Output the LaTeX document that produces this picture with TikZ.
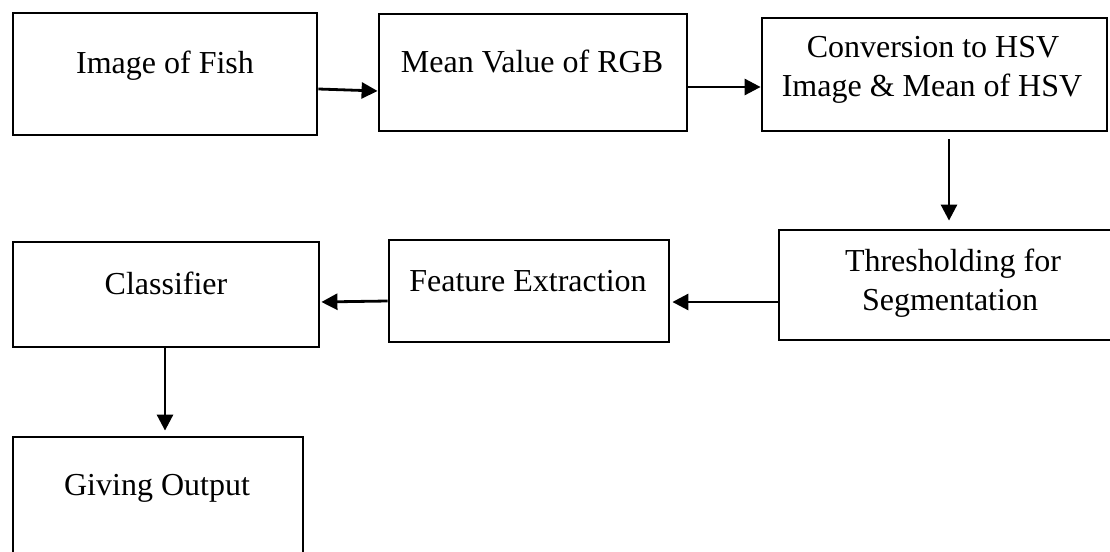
\documentclass[tikz,border=0pt]{standalone}
\usepackage{fontspec}
\setmainfont{Liberation Serif}
\usetikzlibrary{arrows.meta,calc}
\tikzset{
  box/.style={draw=black, line width=2.8pt, rectangle, inner sep=0pt},
  txt/.style={anchor=base, inner sep=0pt, font=\fontsize{32}{39}\selectfont},
  arr/.style={draw=black, line width=2.8pt, -{Triangle[length=16pt,width=16pt]}},
}
\begin{document}
\begin{tikzpicture}[x=1pt,y=-1pt]
\useasboundingbox (0,0) rectangle (1110,551);
\fill[white] (0,0) rectangle (1110,551);
\clip (0,0) rectangle (1110,551);
% boxes
\node[box, minimum width=304pt, minimum height=122pt] (b1) at (165,74) {};
\node[box, minimum width=308pt, minimum height=117pt] (b2) at (533,72.5) {};
\node[box, minimum width=345pt, minimum height=113pt] (b3) at (934.5,74.5) {};
\node[box, minimum width=340pt, minimum height=110pt] (b4) at (949,285) {};
\node[box, minimum width=280pt, minimum height=102pt] (b5) at (529,291) {};
\node[box, minimum width=306pt, minimum height=105pt] (b6) at (166,294.5) {};
\node[box, minimum width=290pt, minimum height=140pt] (b7) at (158,507) {};
% texts
\node[txt] (t1) at (165,74) {Image of Fish};
\node[txt] (t2) at (532,72) {Mean Value of RGB};
\node[txt] (t3a) at (933,57) {Conversion to HSV};
\node[txt] (t3b) at (932,96) {Image \& Mean of HSV};
\node[txt] (t4a) at (953,271) {Thresholding for};
\node[txt] (t4b) at (950,310) {Segmentation};
\node[txt] (t5) at (528,291) {Feature Extraction};
\node[txt] (t6) at (166,294) {Classifier};
\node[txt] (t7) at (157,495) {Giving Output};
% connectors
\draw[arr] ([yshift=-15pt]b1.east) -- ([yshift=-18.5pt]b2.west);
\draw[arr] ([yshift=-14.5pt]b2.east) -- ([yshift=-12.5pt]b3.west);
\draw[arr, shorten <=7pt, shorten >=8pt] ([xshift=14.5pt]b3.south) -- (b4.north);
\draw[arr, shorten >=2pt] ([yshift=-17pt]b4.west) -- ([yshift=-11pt]b5.east);
\draw[arr, shorten >=1pt] ([yshift=-10pt]b5.west) -- ([yshift=-7.5pt]b6.east);
\draw[arr, shorten >=5pt] ([xshift=-1pt]b6.south) -- ([xshift=7pt]b7.north);
\end{tikzpicture}
\end{document}
